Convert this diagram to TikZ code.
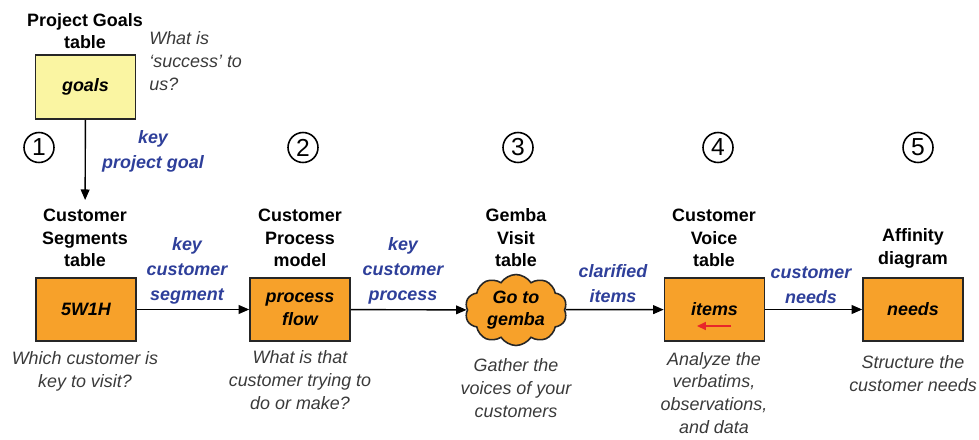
\documentclass[tikz,border=0pt]{standalone}
\usepackage{fontspec}
\setmainfont{Liberation Sans}
\usetikzlibrary{arrows.meta,shapes.symbols}
\definecolor{boxorange}{HTML}{F7A12A}
\definecolor{goalyellow}{HTML}{FAF5A2}
\definecolor{lblblue}{HTML}{2E3F9A}
\definecolor{desc}{HTML}{3A3A3A}
\definecolor{redarrow}{HTML}{E8262A}
\begin{document}
\begin{tikzpicture}[x=0.02cm,y=-0.02cm,
  title/.style={font=\fontsize{10.2}{12.8}\selectfont\bfseries, align=center, text=black, inner sep=0},
  descr/.style={font=\fontsize{10.2}{13}\selectfont\itshape, align=center, text=desc, inner sep=0},
  elabel/.style={font=\fontsize{10.2}{14.2}\selectfont\bfseries\itshape, align=center, text=lblblue, inner sep=0},
  stagebox/.style={draw=black!85, line width=0.9pt, fill=boxorange, minimum width=2cm, minimum height=1.26cm, inner sep=1pt, align=center, font=\fontsize{10.2}{12.8}\selectfont\bfseries\itshape},
  num/.style={circle, draw=black, line width=0.9pt, minimum size=0.6cm, inner sep=0, font=\fontsize{14}{14}\selectfont},
  flow/.style={-{Triangle[length=6pt,width=5pt]}, line width=0.8pt, black}
]
\useasboundingbox (0,0) rectangle (979,439);

% goals
\node[title] (tgoals) at (85,31) {Project Goals\\table};
\node[stagebox, fill=goalyellow, minimum height=1.28cm] (goals) at (85.5,87) {goals};
\node[descr, align=left, anchor=west] (dgoals) at (149,61) {What is\\‘success’ to\\us?};
\node[elabel] (lgoals) at (153,151) {key\\project goal};

% numbers
\node[num] (n1) at (39,147.5) {1};
\node[num] (n2) at (303,147.5) {2};
\node[num] (n3) at (518,147.5) {3};
\node[num] (n4) at (718,147.5) {4};
\node[num] (n5) at (918,147.5) {5};

% stage 1
\node[title] (t1) at (85,238) {Customer\\Segments\\table};
\node[stagebox] (seg) at (86,309.5) {5W1H};
\node[descr] (d1) at (85,371) {Which customer is\\key to visit?};

% stage 2
\node[title] (t2) at (300,238) {Customer\\Process\\model};
\node[stagebox] (proc) at (300,309.5) {process\\flow};
\node[descr] (d2) at (300,380) {What is that\\customer trying to\\do or make?};

% stage 3
\node[title] (t3) at (516,238) {Gemba\\Visit\\table};
\node[cloud, cloud puffs=10, cloud puff arc=115, aspect=1.5, draw=black!85, line width=0.9pt, fill=boxorange, minimum width=2.04cm, minimum height=1.42cm, inner sep=0pt, align=center, font=\fontsize{10.2}{12.8}\selectfont\bfseries\itshape] (cloud) at (516,310) {Go to\\gemba};
\node[descr] (d3) at (516,388) {Gather the\\voices of your\\customers};

% stage 4
\node[title] (t4) at (714,238) {Customer\\Voice\\table};
\node[stagebox] (items) at (714.5,309.5) {items};
\coordinate (ra) at (731,326);
\coordinate (rb) at (697,326);
\draw[-{Triangle[length=5pt,width=4.5pt]}, line width=0.9pt, redarrow] (ra) -- (rb);
\node[descr] (d4) at (714,393) {Analyze the\\verbatims,\\observations,\\and data};

% stage 5
\node[title] (t5) at (913,248.5) {Affinity\\diagram};
\node[stagebox] (needs) at (913,309.5) {needs};
\node[descr] (d5) at (913,373.5) {Structure the\\customer needs};

% edge labels
\node[elabel] (l1) at (187,271) {key\\customer\\segment};
\node[elabel] (l2) at (403,271) {key\\customer\\process};
\node[elabel] (l3) at (613,283.5) {clarified\\items};
\node[elabel] (l4) at (811,285) {customer\\needs};

% connectors
\draw[flow, shorten >=5pt] (goals) -- (t1);
\draw[flow] (seg) -- (proc);
\draw[flow] (proc) -- (cloud);
\draw[flow] (cloud) -- (items);
\draw[flow] (items) -- (needs);
\end{tikzpicture}
\end{document}
